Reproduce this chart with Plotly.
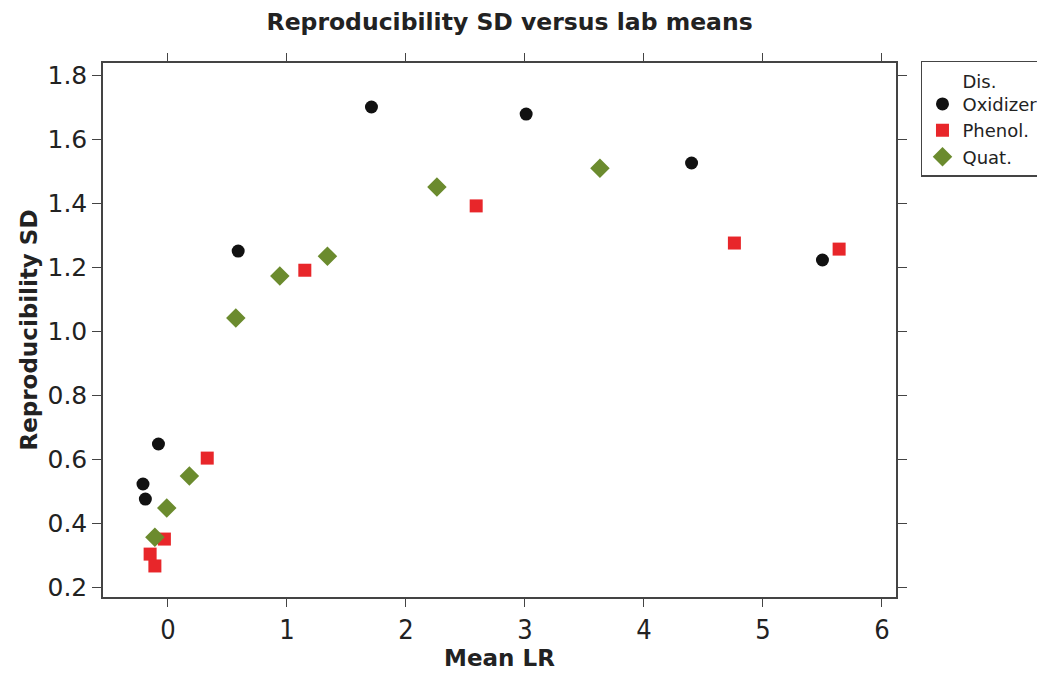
"""Reproducibility SD versus lab means scatter."""

import plotly.graph_objects as go

# Dis. Oxidizer
oxidizer_x = [-0.21, -0.19, -0.08, 0.59, 1.71, 3.01, 4.40, 5.50]
oxidizer_y = [0.522, 0.475, 0.647, 1.25, 1.70, 1.678, 1.525, 1.222]

# Phenol.
phenol_x = [-0.15, -0.11, -0.03, 0.33, 1.15, 2.59, 4.76, 5.64]
phenol_y = [0.303, 0.266, 0.35, 0.603, 1.19, 1.391, 1.275, 1.256]

# Quat.
quat_x = [-0.11, -0.01, 0.18, 0.57, 0.94, 1.34, 2.26, 3.63]
quat_y = [0.356, 0.447, 0.547, 1.041, 1.172, 1.234, 1.45, 1.509]

x_ticks = [0, 1, 2, 3, 4, 5, 6]
y_ticks = [0.2, 0.4, 0.6, 0.8, 1.0, 1.2, 1.4, 1.6, 1.8]

FONT = "DejaVu Sans"
TEXT = "#222222"
LINE = "#444444"

fig = go.Figure()

fig.add_trace(
    go.Scatter(
        x=oxidizer_x,
        y=oxidizer_y,
        mode="markers",
        name="Dis.<br>Oxidizer",
        marker={"symbol": "circle", "size": 13, "color": "#111111"},
    )
)
fig.add_trace(
    go.Scatter(
        x=phenol_x,
        y=phenol_y,
        mode="markers",
        name="Phenol.",
        marker={"symbol": "square", "size": 13, "color": "#e8262a"},
    )
)
fig.add_trace(
    go.Scatter(
        x=quat_x,
        y=quat_y,
        mode="markers",
        name="Quat.",
        marker={"symbol": "diamond", "size": 15, "color": "#6b8b2e"},
    )
)

# the page body adds an 8px offset, so margins are shifted to compensate
fig.update_layout(
    width=1045,
    height=675,
    template="simple_white",
    paper_bgcolor="white",
    plot_bgcolor="white",
    margin={"l": 95, "r": 157, "t": 55, "b": 86, "autoexpand": False},
    font={"family": FONT, "color": TEXT},
    title={
        "text": "<b>Reproducibility SD versus lab means</b>",
        "x": 0.480,
        "xanchor": "center",
        "xref": "container",
        "y": 0.979,
        "yanchor": "middle",
        "font": {"size": 23.5, "family": FONT, "color": TEXT},
    },
    legend={
        "x": 1.0315,
        "y": 1.004,
        "xanchor": "left",
        "yanchor": "top",
        "bordercolor": LINE,
        "borderwidth": 1.5,
        "font": {"size": 18, "family": FONT},
        "valign": "bottom",
        "tracegroupgap": 0,
        "entrywidth": 110,
    },
    showlegend=True,
)

fig.update_xaxes(
    range=[-0.546, 6.118],
    tickvals=x_ticks,
    ticks="outside",
    ticklen=8,
    tickwidth=1.3,
    tickcolor=LINE,
    showline=True,
    linecolor=LINE,
    linewidth=1.5,
    mirror="ticks",
    showgrid=False,
    zeroline=False,
    automargin=False,
    tickfont={"size": 27, "family": "DejaVu Sans Condensed, " + FONT},
    title={"text": "<b>Mean LR</b>", "font": {"size": 23}, "standoff": 6},
)

fig.update_yaxes(
    range=[0.169, 1.8375],
    tickvals=y_ticks,
    ticktext=[f"{v:.1f}" for v in y_ticks],
    ticks="outside",
    ticklen=9,
    tickwidth=1.3,
    tickcolor=LINE,
    showline=True,
    linecolor=LINE,
    linewidth=1.5,
    mirror="ticks",
    showgrid=False,
    zeroline=False,
    automargin=False,
    tickfont={"size": 25},
    title={"text": "<b>Reproducibility SD</b>", "font": {"size": 23}, "standoff": 3},
)

fig.write_html("out.html")
